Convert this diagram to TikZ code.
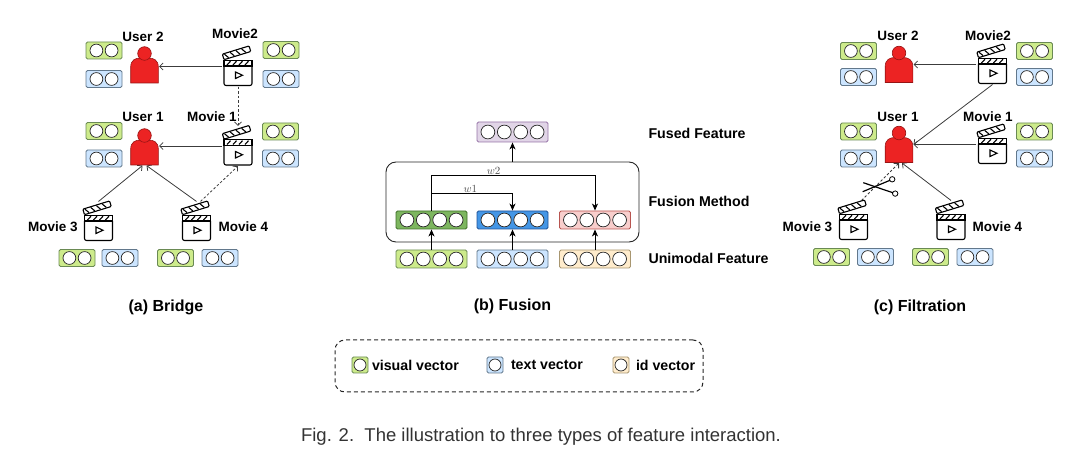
\documentclass[tikz,border=0pt]{standalone}
\usepackage{fontspec}
\setmainfont{Liberation Sans}
\usepackage{tikz}
\usetikzlibrary{positioning,arrows.meta}

\definecolor{visfill}{RGB}{205,235,139}
\definecolor{visdraw}{RGB}{106,138,84}
\definecolor{txtfill}{RGB}{204,229,255}
\definecolor{txtdraw}{RGB}{98,120,140}
\definecolor{idfill}{RGB}{255,236,204}
\definecolor{iddraw}{RGB}{168,150,112}
\definecolor{fusfill}{RGB}{225,213,231}
\definecolor{fusdraw}{RGB}{150,115,166}
\definecolor{dgfill}{RGB}{125,182,95}
\definecolor{dgdraw}{RGB}{62,110,40}
\definecolor{bgfill}{RGB}{68,150,230}
\definecolor{bgdraw}{RGB}{30,80,150}
\definecolor{pkfill}{RGB}{248,206,204}
\definecolor{pkdraw}{RGB}{184,84,80}
\definecolor{userred}{RGB}{236,35,35}
\definecolor{userdraw}{RGB}{150,20,20}
\definecolor{linegray}{RGB}{60,60,60}

\tikzset{
  clapper/.pic={
    \draw[fill=white,rounded corners=2pt] (-14,-0.5) -- (-14,19) -- (14,19) -- (14,-0.5);
    \draw[fill=white] (-14,-6.3) rectangle (14,-0.5);
    \foreach \s in {-11,-5,1,7}
      \draw (\s,-1.5) -- (\s+3.5,-5.3);
    \draw (-2.5,5.5) -- (-2.5,12) -- (4.5,8.75) -- cycle;
    \begin{scope}[shift={(-14,-6.8)},rotate=17]
      \draw[fill=white,rounded corners=1pt] (0,0) rectangle (28,-5.8);
      \foreach \s in {5,11,17,23}
        \draw (\s,-0.6) -- (\s-3,-5.2);
    \end{scope}
  },
  person/.pic={
    \draw[fill=userred,draw=userdraw,line width=0.6pt] (-13.8,18) -- (-13.8,2)
      .. controls (-13.8,-5) and (-9,-7) .. (-4,-7) -- (4,-7)
      .. controls (9,-7) and (13.8,-5) .. (13.8,2) -- (13.8,18) -- cycle;
    \draw[fill=userred,draw=userdraw,line width=0.6pt] (0,-11.5) circle (6.8pt);
  },
  scissors/.pic={
    \draw[line width=1.2pt] (-14.7,-4.3) -- (15,5.8);
    \draw[line width=1.2pt] (-15.3,4.7) -- (12,-6.7);
    \draw[line width=0.8pt] (17.2,6.6) circle (2.7pt);
    \draw[line width=0.8pt] (14.2,-7.7) circle (2.7pt);
  }
}

\begin{document}
\begin{tikzpicture}[x=1pt,y=-1pt,line width=1.1pt,
    lab/.style={font=\bfseries\fontsize{13.5}{15}\selectfont,inner sep=0},
    big/.style={font=\bfseries\fontsize{14.2}{16}\selectfont,inner sep=0},
    sub/.style={font=\bfseries\fontsize{16}{18}\selectfont,inner sep=0},
    movie/.style={minimum width=31pt,minimum height=39pt,inner sep=0},
    user/.style={minimum width=28pt,minimum height=36pt,inner sep=0},
    vec/.style={rectangle,rounded corners=1.5pt,line width=0.9pt,inner sep=0},
    two/.style={vec,minimum width=36pt,minimum height=17pt,
      path picture={\foreach \i in {-1,1}
        \draw[black!85,line width=0.7pt,fill=white] ([xshift=\i*7.6pt]path picture bounding box.center) circle (6.4pt);}},
    four/.style={vec,minimum width=71pt,minimum height=18pt,
      path picture={\foreach \i in {-3,-1,1,3}
        \draw[black!85,line width=0.7pt,fill=white] ([xshift=\i*8.2pt]path picture bounding box.center) circle (6.9pt);}},
    one/.style={vec,minimum size=16pt,
      path picture={\draw[black!85,line width=0.7pt,fill=white] (path picture bounding box.center) circle (6pt);}},
    vis/.style={fill=visfill,draw=visdraw},
    txt/.style={fill=txtfill,draw=txtdraw},
    idv/.style={fill=idfill,draw=iddraw},
    arr/.style={draw=linegray,line width=0.8pt,-{Straight Barb[length=3.5pt,width=7pt]}},
    dsh/.style={arr,dash pattern=on 2.5pt off 2pt},
    farr/.style={draw=black,line width=0.9pt,-{Stealth[length=7pt,width=6pt,inset=2pt]}},
    wl/.style={font=\fontsize{11}{12}\selectfont,text=black!70,inner sep=1pt}]
  \useasboundingbox (0,0) rectangle (1080,462);

  % (a) bridge
  \node[user] (au2) at (144.5,65) {};
  \node[user] (au1) at (144.5,147) {};
  \node[movie] (am2) at (238,66.5) {};
  \node[movie] (am1) at (238,146) {};
  \node[movie] (am3) at (98.5,221.5) {};
  \node[movie] (am4) at (196.5,221.5) {};
  \node[lab] (au2l) at (143,37) {User 2};
  \node[lab] (au1l) at (143,117) {User 1};
  \node[lab] (am2l) at (235,34) {Movie2};
  \node[lab] (am1l) at (212,117) {Movie 1};
  \node[lab] (am3l) at (53,227) {Movie 3};
  \node[lab] (am4l) at (243.5,227) {Movie 4};
  \node[two,vis] (au2v) at (104,50.5) {};
  \node[two,txt] (au2t) at (104,79) {};
  \node[two,vis] (au1v) at (104,131) {};
  \node[two,txt] (au1t) at (104,158.5) {};
  \node[two,vis] (am2v) at (281,50) {};
  \node[two,txt] (am2t) at (281,79) {};
  \node[two,vis] (am1v) at (280.5,131.5) {};
  \node[two,txt] (am1t) at (280.5,158.5) {};
  \node[two,vis] (am3v) at (77,258) {};
  \node[two,txt] (am3t) at (120,258) {};
  \node[two,vis] (am4v) at (175.5,258) {};
  \node[two,txt] (am4t) at (220,258) {};
  \node[sub] (capa) at (166,307) {(a) Bridge};

  \draw[arr] (am2.west) -- (am2.west -| au2.east);
  \draw[arr] (am1.west) -- (am1.west -| au1.east);
  \draw[dsh] (am2.south) -- (am1.north);
  \draw[arr] (am3.north) -- ([xshift=-2pt]au1.south);
  \draw[arr] (am4.north) -- ([xshift=2pt]au1.south);
  \draw[dsh] ([xshift=4pt]am4.north) -- (am1.south);

  % (b) fusion
  \node[draw=black!85,line width=0.9pt,rounded corners=10pt,minimum width=253pt,minimum height=80pt] (fm) at (512.5,202) {};
  \node[four,fill=fusfill,draw=fusdraw,minimum height=20pt] (fused) at (512.5,132) {};
  \node[four,fill=dgfill,draw=dgdraw] (f1) at (431.5,220) {};
  \node[four,fill=bgfill,draw=bgdraw] (f2) at (512.5,220) {};
  \node[four,fill=pkfill,draw=pkdraw] (f3) at (595,220) {};
  \node[four,vis] (g1) at (431.5,259) {};
  \node[four,txt] (g2) at (512.5,259) {};
  \node[four,idv] (g3) at (595,259) {};
  \node[big,anchor=west] (fusedl) at (648,133) {Fused Feature};
  \node[big,anchor=west] (fml) at (648,201) {Fusion Method};
  \node[big,anchor=west] (unil) at (648,258) {Unimodal Feature};
  \node[sub] (capb) at (512.5,306) {(b) Fusion};

  \foreach \i in {1,2,3}
    \draw[farr] (g\i) -- (f\i);
  \draw[farr] (fm.north) -- (fused.south);
  \draw[farr] (f1.north) -- ++(0,-35) -| node[wl,pos=0.19,above] {$w2$} (f3.north);
  \draw[farr] (f1.north) -- ++(0,-17) -| node[wl,pos=0.24,above] {$w1$} (f2.north);

  % (c) filtration
  \node[user] (cu2) at (899,64.5) {};
  \node[user] (cu1) at (899,144.5) {};
  \node[movie] (cm2) at (992.5,64.5) {};
  \node[movie] (cm1) at (992.5,144.5) {};
  \node[movie] (cm3) at (853.5,220.5) {};
  \node[movie] (cm4) at (951,220.5) {};
  \node[lab] (cu2l) at (898,36) {User 2};
  \node[lab] (cu1l) at (898,117) {User 1};
  \node[lab] (cm2l) at (988,36) {Movie2};
  \node[lab] (cm1l) at (988,117) {Movie 1};
  \node[lab] (cm3l) at (807.5,227) {Movie 3};
  \node[lab] (cm4l) at (997.5,227) {Movie 4};
  \node[two,vis] (cu2v) at (858.5,51) {};
  \node[two,txt] (cu2t) at (858.5,77) {};
  \node[two,vis] (cu1v) at (858.5,131.5) {};
  \node[two,txt] (cu1t) at (858.5,158.5) {};
  \node[two,vis] (cm2v) at (1034.5,51) {};
  \node[two,txt] (cm2t) at (1034.5,77) {};
  \node[two,vis] (cm1v) at (1034.5,131.5) {};
  \node[two,txt] (cm1t) at (1034.5,158.5) {};
  \node[two,vis] (cm3v) at (831.5,257) {};
  \node[two,txt] (cm3t) at (875.5,257) {};
  \node[two,vis] (cm4v) at (930.5,257) {};
  \node[two,txt] (cm4t) at (975,257) {};
  \node[sub] (capc) at (920,307) {(c) Filtration};

  \draw[arr] (cm2.west) -- (cu2.east);
  \draw[arr] (cm1.west) -- (cu1.east);
  \draw[arr] (cm2.south) -- (cu1.east);
  \draw[dsh] ([xshift=8pt]cm3.north) -- (cu1.south);
  \draw[arr] (cm4.north) -- ([xshift=3pt]cu1.south);
  \pic at (878,187) {scissors};

  \foreach \n in {au1,au2,cu1,cu2}
    \pic at (\n) {person};
  \foreach \n in {am1,am2,am3,am4,cm1,cm2,cm3,cm4}
    \pic at (\n) {clapper};

  % legend
  \node[draw=black!85,rounded corners=10pt,line width=1pt,dash pattern=on 4pt off 3pt,
    minimum width=368pt,minimum height=52pt] (leg) at (519,366) {};
  \node[one,vis] (lv) at (360,365) {};
  \node[big,right=3pt of lv] (lvt) {visual vector};
  \node[one,txt] (lt) at (495,365) {};
  \node[big,right=7pt of lt] (ltt) {text vector};
  \node[one,idv] (li) at (621,365) {};
  \node[big,right=6pt of li] (lit) {id vector};

  \node[font=\fontsize{18.5}{20}\selectfont,text=black!80] (cap) at (541,437)
    {Fig. 2.\ \ The illustration to three types of feature interaction.};
\end{tikzpicture}
\end{document}
